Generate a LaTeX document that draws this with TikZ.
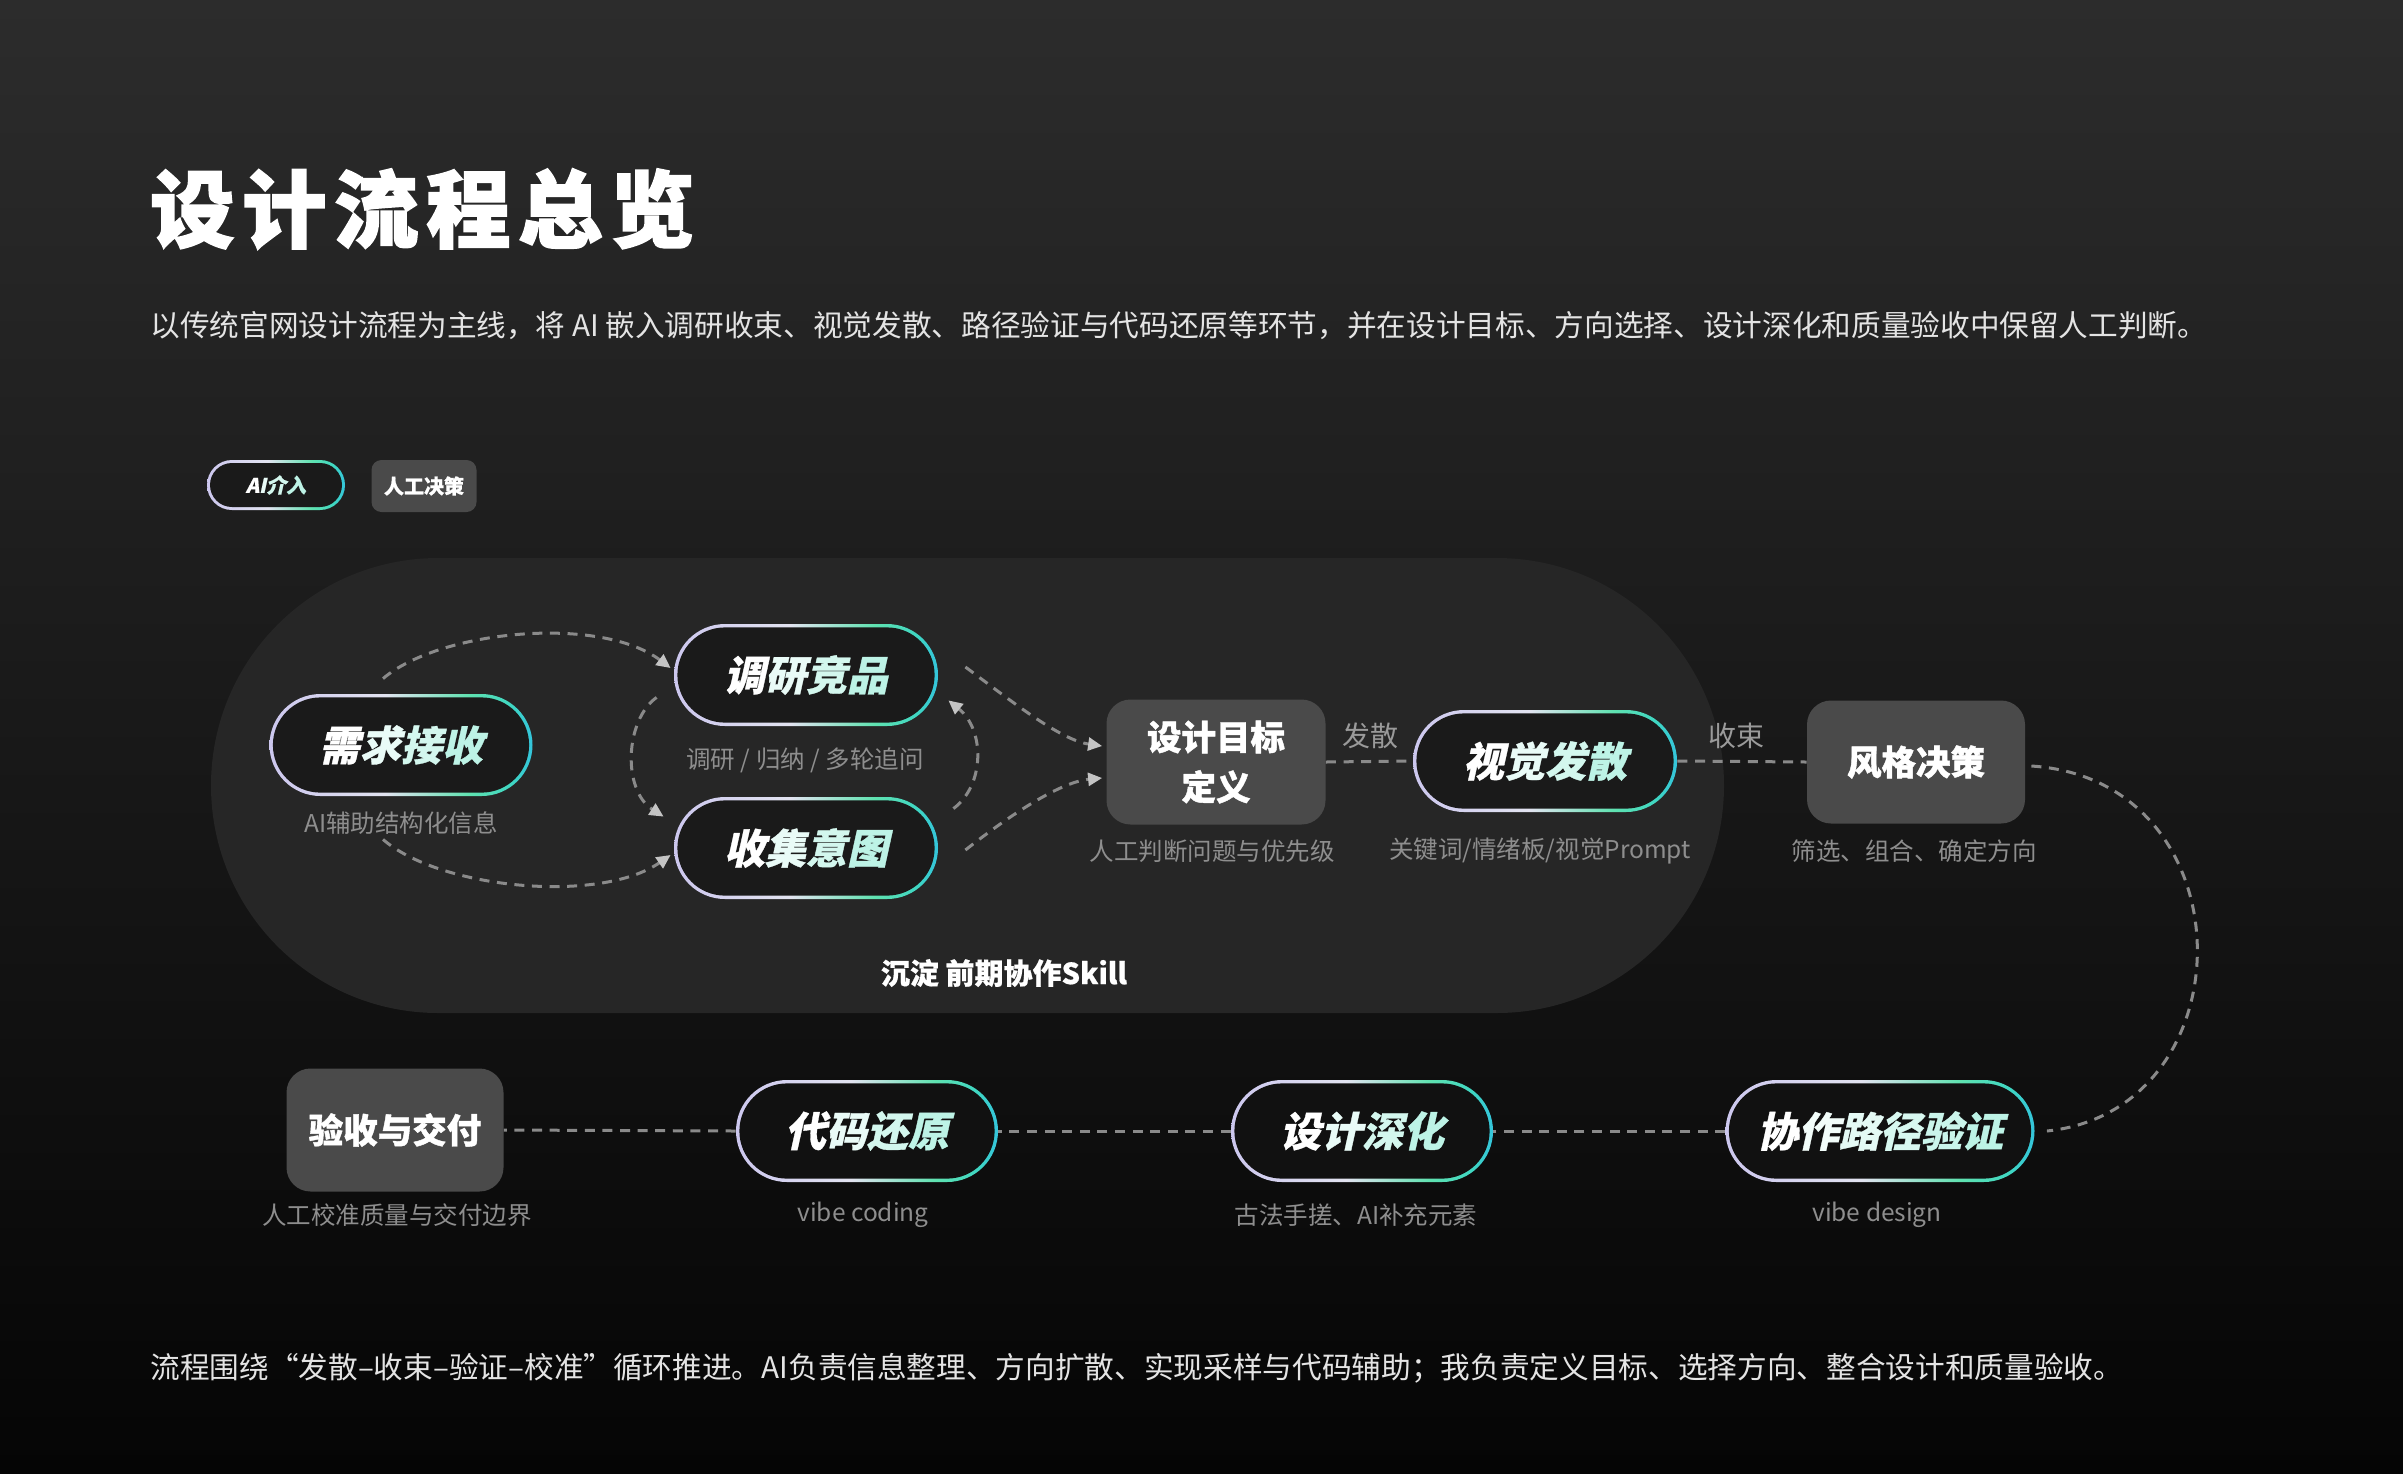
\documentclass[tikz,border=0pt]{standalone}
\usepackage{fontspec}
\setmainfont{Noto Sans CJK SC}
\newfontfamily\pillfont[BoldFeatures={FakeSlant=0.22,FakeBold=0.8}]{Noto Sans CJK SC}
\newfontfamily\heavyfont[BoldFeatures={FakeBold=2.2}]{Noto Sans CJK SC}
\newfontfamily\boxfont[BoldFeatures={FakeBold=1.2}]{Noto Sans CJK SC}
\newfontfamily\semifont[BoldFeatures={FakeBold=0.6}]{Noto Sans CJK SC}
\usetikzlibrary{arrows.meta}

\definecolor{bgTop}{HTML}{2C2C2C}
\definecolor{bgBot}{HTML}{050505}
\definecolor{regionfill}{HTML}{262626}
\definecolor{pinA}{HTML}{1A1A1A}
\definecolor{pinB}{HTML}{111111}
\definecolor{boxgray}{HTML}{4A4A4A}
\definecolor{capgray}{HTML}{8E8E8E}
\definecolor{lblgray}{HTML}{9A9A9A}
\definecolor{dashgray}{HTML}{8A8A8A}
\definecolor{tipgray}{HTML}{C4C4C4}
\definecolor{subwhite}{HTML}{E4E4E4}
\definecolor{mint}{HTML}{BDF3E6}
\definecolor{ringA}{HTML}{CCC7EE}
\definecolor{ringB}{HTML}{E2E3F0}
\definecolor{ringC}{HTML}{5FE2B0}
\definecolor{ringD}{HTML}{3FD6C2}
\definecolor{ringE}{HTML}{34C4DC}

\pgfdeclarehorizontalshading{pillring}{100bp}{color(0bp)=(ringA); color(25bp)=(ringA); color(47bp)=(ringB); color(63bp)=(ringC); color(71bp)=(ringD); color(75bp)=(ringE); color(100bp)=(ringE)}

\newcount\gtn \newcount\gti
\def\gtcount#1{\ifx#1\relax\else\advance\gtn by1 \expandafter\gtcount\fi}
\def\gtdo#1{\ifx#1\relax\else\pgfmathsetmacro\gtp{100*\the\gti/max(\the\gtn-1,1)}\textcolor{mint!\gtp!white}{#1}\advance\gti by1 \expandafter\gtdo\fi}
\def\gradtext#1{\gtn=0 \gtcount#1\relax\gti=0 \gtdo#1\relax}

\tikzset{
  pillinner/.style={fill=pinA},
  pillbase/.style={rectangle, minimum height=51pt, rounded corners=25.5pt, inner sep=0pt,
    shade, shading=pillring, text=white,
    font=\pillfont\bfseries\fontsize{20.5pt}{24pt}\selectfont,
    path picture={\fill[pillinner, rounded corners=23.8pt]
      ([shift={(1.7pt,-1.7pt)}]path picture bounding box.north west) rectangle
      ([shift={(-1.7pt,1.7pt)}]path picture bounding box.south east);}},
  pillnode/.style={pillbase, minimum width=#1},
  hbox/.style={rectangle, rounded corners=12pt, fill=boxgray, text=white, align=center,
    inner sep=0pt, font=\boxfont\bfseries\fontsize{17.25pt}{25pt}\selectfont},
  captxt/.style={text=capgray, inner sep=0pt, font=\fontsize{12.25pt}{14pt}\selectfont},
  lbltxt/.style={text=lblgray, inner sep=0pt, font=\fontsize{14pt}{16pt}\selectfont},
  flowline/.style={draw=dashgray, line width=1.5pt, dash pattern=on 5pt off 3.8pt},
  flowarrow/.style={flowline, -{Triangle[length=7pt,width=6.5pt,color=tipgray,fill=tipgray]}},
}

\begin{document}
\begin{tikzpicture}[x=0.5pt, y=-0.5pt]
\useasboundingbox (0,0) rectangle (2403,1473);
\shade[top color=bgTop, bottom color=bgBot] (0,0) rectangle (2403,1473);

% title and subtitle
\node[anchor=west, inner sep=0pt, text=white, font=\heavyfont\bfseries\fontsize{42pt}{44pt}\selectfont] (title) at (150,209)
  {设\hspace{4pt}计\hspace{4pt}流\hspace{4pt}程\hspace{4pt}总\hspace{4pt}览};
\node[anchor=west, inner sep=0pt, text=subwhite, font=\fontsize{14.83pt}{16pt}\selectfont] (sub) at (150,326)
  {以传统官网设计流程为主线，将 AI 嵌入调研收束、视觉发散、路径验证与代码还原等环节，并在设计目标、方向选择、设计深化和质量验收中保留人工判断。};

% legend
\node[rectangle, minimum width=69pt, minimum height=25pt, rounded corners=12.5pt, inner sep=0pt,
  shade, shading=pillring, text=white, font=\pillfont\bfseries\fontsize{10pt}{12pt}\selectfont,
  path picture={\fill[pinA, rounded corners=11pt]
      ([shift={(1.5pt,-1.5pt)}]path picture bounding box.north west) rectangle
      ([shift={(-1.5pt,1.5pt)}]path picture bounding box.south east);}] (legai) at (276,485) {\gradtext{AI介入}};
\node[rectangle, rounded corners=5pt, fill=boxgray, text=white, minimum width=52.5pt, minimum height=26pt,
  inner sep=0pt, font=\semifont\bfseries\fontsize{10pt}{12pt}\selectfont] (leghum) at (424,486) {人工决策};

% region
\fill[regionfill, rounded corners=113.7pt] (211,558) rectangle (1724,1013);

% top nodes
\node[pillnode=131.5pt] (req) at (401,745) {\gradtext{需求接收}};
\node[captxt] (capreq) at (401,823) {AI辅助结构化信息};
\node[pillnode=132pt] (yan) at (806,675) {\gradtext{调研竞品}};
\node[pillnode=132pt] (shou) at (806,848) {\gradtext{收集意图}};
\node[captxt] (capyan) at (805,760) {调研 / 归纳 / 多轮追问};
\node[hbox, minimum width=109.5pt, minimum height=62.5pt] (goal) at (1216,762) {设计目标\\定义};
\node[captxt] (capgoal) at (1212,851) {人工判断问题与优先级};
\node[pillnode=132pt] (vis) at (1545,761) {\gradtext{视觉发散}};
\node[captxt] (capvis) at (1540,851) {关键词/情绪板/视觉Prompt};
\node[hbox, minimum width=109pt, minimum height=61.5pt] (style) at (1916,762) {风格决策};
\node[captxt] (capstyle) at (1914,851) {筛选、组合、确定方向};
\node[lbltxt] (lfa) at (1370,736) {发散};
\node[lbltxt] (lshu) at (1736,736) {收束};
\node[text=white, inner sep=0pt, font=\semifont\bfseries\fontsize{14.5pt}{16pt}\selectfont] (skill) at (1004,973) {沉淀 前期协作Skill};

% bottom nodes
\begin{scope}[pillinner/.style={fill=pinB}]
\node[hbox, minimum width=108.5pt, minimum height=61.5pt] (acc) at (395,1130) {验收与交付};
\node[captxt] (capacc) at (397,1215) {人工校准质量与交付边界};
\node[pillnode=131pt] (code) at (867,1131) {\gradtext{代码还原}};
\node[captxt] (capcode) at (863,1215) {vibe coding};
\node[pillnode=131pt] (deep) at (1362,1131) {\gradtext{设计深化}};
\node[captxt] (capdeep) at (1356,1215) {古法手搓、AI补充元素};
\node[pillnode=154.5pt] (path) at (1880,1131) {\gradtext{协作路径验证}};
\node[captxt] (cappath) at (1877,1215) {vibe design};
\end{scope}

% connectors
\draw[flowarrow] ([shift={(-18,-15)}]req.north) .. controls (440,630) and (600,615) .. ([shift={(-3,-7)}]yan.west);
\draw[flowarrow] ([shift={(-18,43)}]req.south) .. controls (440,889) and (600,904) .. ([shift={(-3,7)}]shou.west);
\draw[flowarrow] ([shift={(-17,-29)}]yan.south west) .. controls (625,720) and (622,790) .. ([shift={(-10,20)}]shou.north west);
\draw[flowarrow] ([shift={(15,12)}]shou.north east) .. controls (985,785) and (985,730) .. ([shift={(10,-26)}]yan.south east);
\draw[flowarrow] ([shift={(27,-8)}]yan.east) .. controls (1010,700) and (1060,740) .. ([shift={(-4,-16)}]goal.west);
\draw[flowarrow] ([shift={(27,2)}]shou.east) .. controls (1010,815) and (1060,782) .. ([shift={(-4,16)}]goal.west);
\draw[flowline] (goal.east) -- (vis.west);
\draw[flowline] (vis.east) -- (style.west);
\draw[flowline] ([shift={(6,4)}]style.east) .. controls (2250,780) and (2250,1110) .. ([shift={(12,0)}]path.east);
\draw[flowline] (path.west) -- (deep.east);
\draw[flowline] (deep.west) -- (code.east);
\draw[flowline] (code.west) -- (acc.east);

% bottom summary
\node[anchor=west, inner sep=0pt, text=subwhite, font=\fontsize{14.83pt}{16pt}\selectfont] (foot) at (150,1368)
  {流程围绕“发散–收束–验证–校准”循环推进。AI负责信息整理、方向扩散、实现采样与代码辅助；我负责定义目标、选择方向、整合设计和质量验收。};
\end{tikzpicture}
\end{document}
